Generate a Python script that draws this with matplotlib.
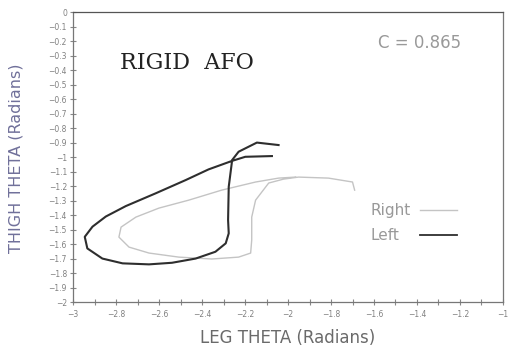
import numpy as np
import matplotlib.pyplot as plt

# left leg (dark line)
left_x = [-2.044, -2.145, -2.23, -2.26, -2.276, -2.279, -2.276, -2.29, -2.338, -2.43,
          -2.54, -2.647, -2.77, -2.864, -2.934, -2.946, -2.91, -2.848, -2.755, -2.616,
          -2.477, -2.37, -2.26, -2.199, -2.075]
left_y = [-0.917, -0.90, -0.963, -1.02, -1.205, -1.434, -1.526, -1.595, -1.653, -1.70,
          -1.729, -1.74, -1.733, -1.70, -1.63, -1.55, -1.48, -1.41, -1.338, -1.25,
          -1.159, -1.085, -1.026, -0.998, -0.993]

# right leg (light line)
right_x = [-1.690, -1.700, -1.812, -1.951, -2.021, -2.090, -2.151, -2.169, -2.169, -2.174,
           -2.230, -2.355, -2.508, -2.647, -2.740, -2.787, -2.777, -2.708, -2.601, -2.462,
           -2.309, -2.151, -2.044, -1.965]
right_y = [-1.228, -1.172, -1.145, -1.138, -1.152, -1.179, -1.297, -1.414, -1.572, -1.662,
           -1.690, -1.703, -1.690, -1.662, -1.621, -1.552, -1.483, -1.414, -1.352, -1.297,
           -1.228, -1.172, -1.145, -1.138]

xticks = np.round(np.arange(-3, -0.99, 0.2), 1)
yticks = np.round(np.arange(-2, 0.01, 0.1), 1)

def fmt(v):
    return ('%g' % v).replace('-', '\u2212')

fig = plt.figure(figsize=(5.08, 3.46), dpi=100)
ax = fig.add_axes([0.144, 0.127, 0.846, 0.838])

ax.plot(right_x, right_y, color='#c4c4c4', lw=1.0)
ax.plot(left_x, left_y, color='#2e2e2e', lw=1.5)

ax.set_xlim(-3, -1)
ax.set_ylim(-2, 0)
ax.set_xticks(xticks)
ax.set_xticklabels([fmt(v) for v in xticks])
ax.set_xticks(np.round(np.arange(-2.9, -1.0, 0.2), 1), minor=True)
ax.set_yticks(yticks)
ax.set_yticklabels([fmt(v) for v in yticks])
ax.tick_params(axis='both', which='both', direction='inout', colors='#888888',
               labelcolor='#808080', labelsize=5.5, length=5, width=0.8)
ax.tick_params(axis='y', pad=2)
for s in ax.spines.values():
    s.set_color('#777777')
    s.set_linewidth(0.9)
ax.spines['top'].set_color('#555555')

ax.set_xlabel('LEG THETA (Radians)', color='#6a6a6a', fontsize=12)
ax.xaxis.set_label_coords(0.5, -0.093)
ax.set_ylabel('THIGH THETA (Radians)', color='#70709a', fontsize=11.5)
ax.yaxis.set_label_coords(-0.115, 0.497)

ax.text(-2.78, -0.35, 'RIGID  AFO', family='DejaVu Serif', fontsize=16,
        color='#222222', va='center', ha='left')
ax.text(-1.58, -0.21, 'C = 0.865', fontsize=12, color='#999999', va='center', ha='left')

# legend drawn by hand
ax.text(-1.617, -1.366, 'Right', fontsize=11, color='#999999', va='center')
ax.text(-1.617, -1.538, 'Left', fontsize=11, color='#999999', va='center')
ax.plot([-1.385, -1.214], [-1.366, -1.366], color='#c4c4c4', lw=1.0)
ax.plot([-1.385, -1.214], [-1.538, -1.538], color='#2e2e2e', lw=1.3)

fig.savefig('out.png', dpi=100)
